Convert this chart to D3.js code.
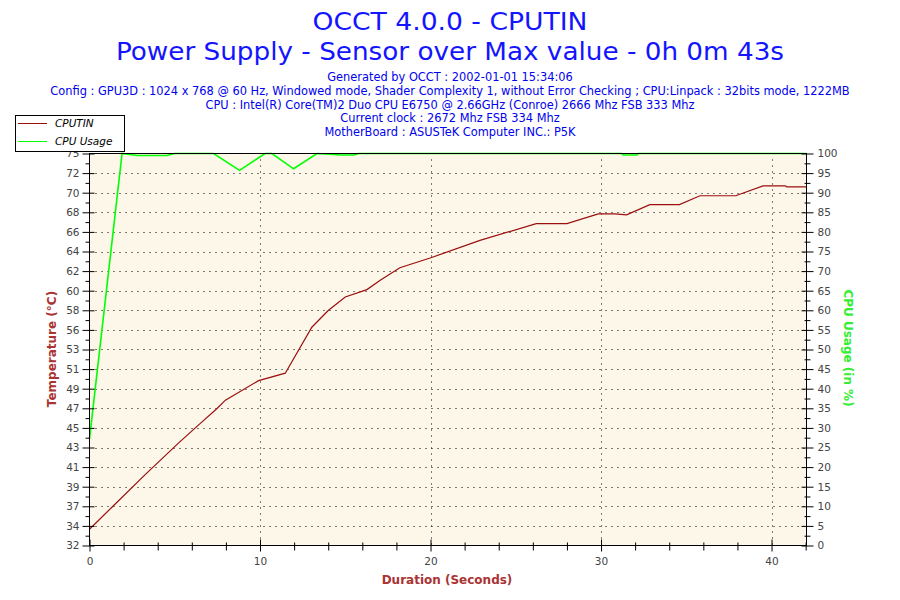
<!DOCTYPE html>
<html>
<head>
<meta charset="utf-8">
<script src="https://cdn.jsdelivr.net/npm/d3@7"></script>
<style>
body { margin: 0; background: #fff; }
</style>
</head>
<body>
<svg id="chart" width="900" height="600"></svg>
<script>
// sample times (s) and values
var tempTimes  = [0, 1.33, 3.28, 5.23, 6.5, 7.48, 7.97, 9.92, 11.48, 13.04, 14.0, 15.0, 16.27, 17.05, 18.2, 19.98, 22.9, 26.2, 28.0, 29.84, 30.8, 31.5, 32.86, 34.6, 35.8, 37.9, 39.5, 40.8, 40.9, 42.05];
var tempValues = [34.1, 36.5, 40.0, 43.4, 45.5, 47.1, 48.0, 50.1, 50.9, 55.85, 57.65, 59.1, 59.9, 60.9, 62.25, 63.3, 65.2, 67.0, 67.0, 68.05, 68.05, 67.95, 69.05, 69.05, 70.0, 70.0, 71.07, 71.07, 70.96, 70.96];

var cpuTimes  = [0, 1.91, 2.8, 4.55, 5.0, 7.28, 8.8, 10.3, 10.7, 11.97, 13.34, 14.8, 15.5, 15.8, 31.2, 31.3, 32.1, 32.2, 42.05];
var cpuValues = [27.2, 100, 99.5, 99.5, 100, 100, 95.7, 100, 100, 96.1, 100, 99.6, 99.6, 100, 100, 99.6, 99.6, 100, 100];

var tempTickLabels = [32, 34, 37, 39, 41, 43, 45, 47, 49, 51, 53, 56, 58, 60, 62, 64, 66, 68, 70, 72, 75];
var cpuTicks = [0, 5, 10, 15, 20, 25, 30, 35, 40, 45, 50, 55, 60, 65, 70, 75, 80, 85, 90, 95, 100];
var timeTicks = [0, 10, 20, 30, 40];
var timeMinorTicks = [2, 4, 6, 8, 12, 14, 16, 18, 22, 24, 26, 28, 32, 34, 36, 38, 42];

var titleLines = ["OCCT 4.0.0 - CPUTIN", "Power Supply - Sensor over Max value - 0h 0m 43s"];
var titleWidths = [275, 668];
var infoLines = [
  "Generated by OCCT : 2002-01-01 15:34:06",
  "Config : GPU3D : 1024 x 768 @ 60 Hz, Windowed mode, Shader Complexity 1, without Error Checking ; CPU:Linpack : 32bits mode, 1222MB",
  "CPU : Intel(R) Core(TM)2 Duo CPU E6750 @ 2.66GHz (Conroe) 2666 Mhz FSB 333 Mhz",
  "Current clock : 2672 Mhz FSB 334 Mhz",
  "MotherBoard : ASUSTeK Computer INC.: P5K"
];
var legendNames = ["CPUTIN", "CPU Usage"];

var tempDomain = [32.35, 74.55];
var tempColor = "#9b0f0f", cpuColor = "#00ff00";

var svg = d3.select("#chart");
var plotL = 89.5, plotR = 806.5, plotT = 153.5, plotB = 545.5;

var x = d3.scaleLinear().domain([0, 42.05]).range([plotL, plotR]);
var yT = d3.scaleLinear().domain(tempDomain).range([plotB, plotT]);
var yC = d3.scaleLinear().domain([0, 100]).range([plotB, plotT]);

var tempStep = (tempDomain[1] - tempDomain[0]) / (tempTickLabels.length - 1);
var tempTickVals = tempTickLabels.map(function(d, i) { return tempDomain[0] + i * tempStep; });
var tempMinorVals = tempTickVals.slice(1).map(function(d) { return d - tempStep / 2; });

// titles
svg.selectAll(".title").data(titleLines).enter().append("text")
  .attr("x", 450).attr("y", function(d, i) { return 30 + i * 30; })
  .attr("text-anchor", "middle")
  .attr("textLength", function(d, i) { return titleWidths[i]; })
  .attr("lengthAdjust", "spacingAndGlyphs")
  .style("font-family", "DejaVu Sans Condensed, DejaVu Sans, sans-serif")
  .style("font-size", "25px")
  .style("fill", "#1414ff")
  .text(function(d) { return d; });

svg.selectAll(".info").data(infoLines).enter().append("text")
  .attr("x", 450).attr("y", function(d, i) { return 81 + i * 13.8; })
  .attr("text-anchor", "middle")
  .style("font-family", "DejaVu Sans, Verdana, sans-serif")
  .style("font-size", "11.4px")
  .style("fill", "#0000ee")
  .text(function(d) { return d; });

// plot background
svg.append("rect")
  .attr("x", plotL).attr("y", plotT)
  .attr("width", plotR - plotL).attr("height", plotB - plotT)
  .style("fill", "#fcf7e9");

// grid
var grid = svg.append("g").style("stroke", "#000").style("stroke-dasharray", "1,5");
grid.selectAll(".hg").data(tempTickVals.slice(1, -1)).enter().append("line")
  .attr("x1", plotL + 6).attr("x2", plotR)
  .attr("y1", function(d) { return Math.round(yT(d)) + 0.5; })
  .attr("y2", function(d) { return Math.round(yT(d)) + 0.5; });
grid.selectAll(".vg").data(timeTicks.slice(1)).enter().append("line")
  .attr("y1", plotT + 6).attr("y2", plotB)
  .attr("x1", function(d) { return Math.round(x(d)) + 0.5; })
  .attr("x2", function(d) { return Math.round(x(d)) + 0.5; });

// series
var tempLine = d3.line()
  .x(function(d, i) { return x(tempTimes[i]); })
  .y(function(d) { return yT(d); });
var cpuLine = d3.line()
  .x(function(d, i) { return x(cpuTimes[i]); })
  .y(function(d) { return yC(d); });

svg.append("path").attr("d", cpuLine(cpuValues))
  .style("fill", "none").style("stroke", cpuColor).style("stroke-width", 1.6);
svg.append("path").attr("d", tempLine(tempValues))
  .style("fill", "none").style("stroke", tempColor).style("stroke-width", 1.2);

// frame
svg.append("rect")
  .attr("x", plotL).attr("y", plotT)
  .attr("width", plotR - plotL).attr("height", plotB - plotT)
  .style("fill", "none").style("stroke", "#000");

function styleAxis(g) {
  g.select(".domain").remove();
  g.selectAll("line").style("stroke", "#000");
  g.selectAll("text")
    .style("font-family", "DejaVu Sans, Verdana, sans-serif")
    .style("font-size", "10.5px")
    .style("fill", "#444");
}

// left axis
var gl = svg.append("g").attr("transform", "translate(" + plotL + ",0)")
  .call(d3.axisLeft(yT).tickValues(tempTickVals).tickSize(6).tickPadding(4)
    .tickFormat(function(d, i) { return tempTickLabels[i]; }));
gl.selectAll(".tick line").attr("x2", -7).attr("x1", 5);
styleAxis(gl);
var glm = svg.append("g").attr("transform", "translate(" + plotL + ",0)")
  .call(d3.axisLeft(yT).tickValues(tempMinorVals).tickSize(4).tickFormat(""));
styleAxis(glm);

// right axis
var gr = svg.append("g").attr("transform", "translate(" + plotR + ",0)")
  .call(d3.axisRight(yC).tickValues(cpuTicks).tickSize(6).tickPadding(5));
gr.selectAll(".tick line").attr("x2", 7).attr("x1", -5);
styleAxis(gr);
var grm = svg.append("g").attr("transform", "translate(" + plotR + ",0)")
  .call(d3.axisRight(yC).tickValues(cpuTicks.slice(1).map(function(d) { return d - 2.5; })).tickSize(4).tickFormat(""));
grm.selectAll(".tick line").attr("x1", -2);
styleAxis(grm);

// bottom axis
var gb = svg.append("g").attr("transform", "translate(0," + plotB + ")")
  .call(d3.axisBottom(x).tickValues(timeTicks).tickSize(6).tickPadding(6));
gb.selectAll(".tick line").attr("y1", -6);
styleAxis(gb);
var gbm = svg.append("g").attr("transform", "translate(0," + plotB + ")")
  .call(d3.axisBottom(x).tickValues(timeMinorTicks).tickSize(5).tickFormat(""));
gbm.selectAll(".tick line").attr("y1", -3);
styleAxis(gbm);

// axis titles
var titleFont = "DejaVu Sans, Verdana, sans-serif";
svg.append("text")
  .attr("transform", "translate(56,349) rotate(-90)")
  .attr("text-anchor", "middle")
  .style("font-family", titleFont).style("font-size", "12px").style("font-weight", "bold")
  .style("fill", "#aa3333")
  .text("Temperature (°C)");
svg.append("text")
  .attr("transform", "translate(844,348) rotate(90)")
  .attr("text-anchor", "middle")
  .style("font-family", titleFont).style("font-size", "12px").style("font-weight", "bold")
  .style("fill", "#33ee33")
  .text("CPU Usage (in %)");
svg.append("text")
  .attr("x", 447).attr("y", 584)
  .attr("text-anchor", "middle")
  .style("font-family", titleFont).style("font-size", "12px").style("font-weight", "bold")
  .style("fill", "#aa3333")
  .text("Duration (Seconds)");

// legend
var legend = svg.append("g");
legend.append("rect")
  .attr("x", 15.5).attr("y", 115.5).attr("width", 109).attr("height", 36)
  .style("fill", "#fff").style("stroke", "#000");
var items = legend.selectAll(".item").data(legendNames).enter().append("g")
  .attr("transform", function(d, i) { return "translate(0," + (123 + i * 18) + ")"; });
items.append("line")
  .attr("x1", 18).attr("x2", 47).attr("y1", 0.5).attr("y2", 0.5)
  .style("stroke", function(d, i) { return i === 0 ? tempColor : cpuColor; });
items.append("text")
  .attr("x", 55).attr("y", 4)
  .style("font-family", titleFont).style("font-size", "10.5px").style("font-style", "italic")
  .style("fill", "#000")
  .text(function(d) { return d; });
</script>
</body>
</html>
